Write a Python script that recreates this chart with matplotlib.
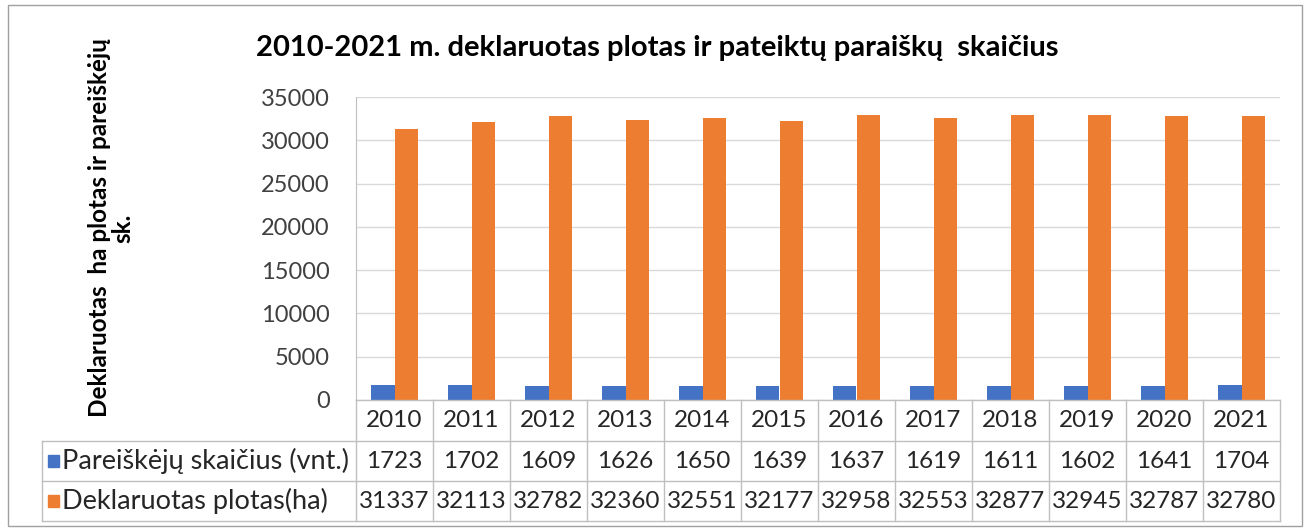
import numpy as np
import matplotlib
matplotlib.use("Agg")
import matplotlib.pyplot as plt
import matplotlib.transforms as mtransforms
from matplotlib.patches import Rectangle

years = ["2010", "2011", "2012", "2013", "2014", "2015",
         "2016", "2017", "2018", "2019", "2020", "2021"]
applicants = [1723, 1702, 1609, 1626, 1650, 1639, 1637, 1619, 1611, 1602, 1641, 1704]
area = [31337, 32113, 32782, 32360, 32551, 32177, 32958, 32553, 32877, 32945, 32787, 32780]
series_names = ["Pareiškėjų skaičius (vnt.)", "Deklaruotas plotas(ha)"]
colors = ["#4472C4", "#ED7D31"]

plt.rcParams['font.family'] = ['Lato', 'DejaVu Sans']

W, H = 1312, 531
fig = plt.figure(figsize=(W / 100, H / 100), dpi=100)
ax = fig.add_axes([356 / W, 1 - 400 / H, 924 / W, 303 / H])

x = np.arange(len(years))
bw = 0.3
ax.bar(x - bw / 2, applicants, bw, color=colors[0])
ax.bar(x + bw / 2, area, bw, color=colors[1])
ax.set_xlim(-0.5, len(years) - 0.5)
ax.set_ylim(0, 35000)
ax.set_yticks(range(0, 35001, 5000))
ax.yaxis.grid(True, color="#d9d9d9", lw=1)
ax.set_axisbelow(True)
for s in ["top", "right", "bottom"]:
    ax.spines[s].set_visible(False)
ax.spines["left"].set_color("#bfbfbf")
ax.set_xticks([])
ax.tick_params(axis="y", length=0, pad=19, labelsize=17, labelcolor="#404040")

# data table under the plot
line_c = "#bfbfbf"
fs = 17.5
rows = [0, -41 / 303, -81 / 303, -121 / 303]
lab_left = (42 - 356) / 924
blend = mtransforms.blended_transform_factory(ax.transData, ax.transAxes)
ax.plot([0, 1], [0, 0], color=line_c, lw=1, transform=ax.transAxes, clip_on=False)
for r in rows[1:]:
    ax.plot([lab_left, 1], [r, r], color=line_c, lw=1, transform=ax.transAxes, clip_on=False)
ax.plot([lab_left, lab_left], [rows[1], rows[3]], color=line_c, lw=1,
        transform=ax.transAxes, clip_on=False)
for b in np.arange(len(years) + 1) - 0.5:
    ax.plot([b, b], [rows[0], rows[3]], color=line_c, lw=1, transform=blend, clip_on=False)

def mid(i):
    return (rows[i] + rows[i + 1]) / 2

for i, yr in enumerate(years):
    ax.text(i, mid(0), yr, ha="center", va="center", fontsize=fs,
            color="#262626", transform=blend)
    ax.text(i, mid(1), str(applicants[i]), ha="center", va="center", fontsize=fs,
            color="#262626", transform=blend)
    ax.text(i, mid(2), str(area[i]), ha="center", va="center", fontsize=fs,
            color="#262626", transform=blend)

for k, name in enumerate(series_names):
    ym = mid(k + 1)
    ax.add_patch(Rectangle(((48 - 356) / 924, ym - 6 / 303), 11 / 924, 12 / 303,
                           color=colors[k], transform=ax.transAxes, clip_on=False))
    ax.text((62 - 356) / 924, ym, name, ha="left", va="center", fontsize=19.5,
            color="#262626", transform=ax.transAxes)

fig.text(657 / W, 1 - 48 / H, "2010-2021 m. deklaruotas plotas ir pateiktų paraiškų  skaičius",
         ha="center", va="center", fontsize=21, fontweight="bold", color="#000000")
fig.text(111 / W, 1 - 228 / H, "Deklaruotas  ha plotas ir pareiškėjų\nsk.",
         ha="center", va="center", rotation=90, fontsize=17.5, fontweight="bold",
         multialignment="center", linespacing=1.05, color="#000000")

fig.add_artist(Rectangle((8 / W, 1 - 526 / H), 1294 / W, 521 / H, fill=False,
                         edgecolor="#a0a0a0", lw=1, transform=fig.transFigure))

fig.savefig("out.png", dpi=100)
